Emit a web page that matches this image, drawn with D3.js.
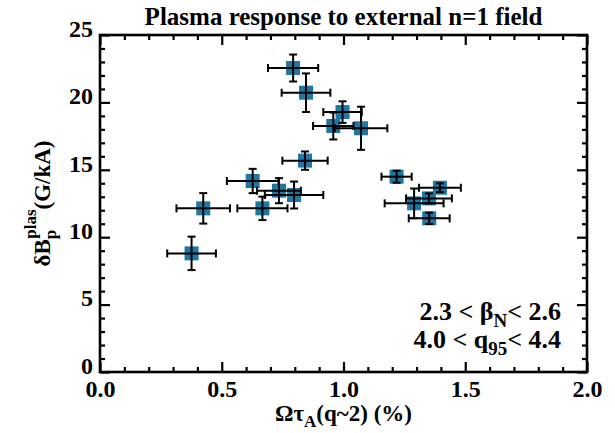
<!DOCTYPE html>
<html>
<head>
<meta charset="utf-8">
<script src="https://cdn.jsdelivr.net/npm/d3@7"></script>
<style>
body { margin: 0; background: #fff; }
text { font-family: "Liberation Serif", "Times New Roman", serif; font-weight: bold; fill: #000; }
</style>
</head>
<body>
<div id="vis"></div>
<script>
// values
const rotation    = [0.376, 0.424, 0.627, 0.667, 0.735, 0.797, 0.842, 0.793, 0.846, 0.958, 0.996, 1.072, 1.218, 1.290, 1.351, 1.396, 1.352]
const response    = [8.80, 12.14, 14.17, 12.14, 13.45, 13.13, 15.68, 22.55, 20.72, 18.25, 19.28, 18.08, 14.49, 12.51, 12.88, 13.67, 11.40]
const rotationErr = [0.100, 0.110, 0.106, 0.103, 0.090, 0.120, 0.093, 0.103, 0.100, 0.083, 0.079, 0.108, 0.062, 0.121, 0.094, 0.086, 0.084]
const responseErr = [1.24, 1.13, 0.90, 0.87, 0.93, 1.00, 0.68, 1.00, 1.43, 1.00, 0.80, 1.60, 0.45, 1.10, 0.37, 0.33, 0.42]
const xTicks = [0, 0.5, 1.0, 1.5, 2.0]
const yTicks = [0, 5, 10, 15, 20, 25]

const W = 615, H = 433
const margin = {left: 100, top: 35, right: 28, bottom: 61}
const width = W - margin.left - margin.right
const height = H - margin.top - margin.bottom

const dataset = rotation.map((r, i) => ({x: r, y: response[i], ex: rotationErr[i], ey: responseErr[i]}))

const svg = d3.select('#vis').append('svg')
    .attr('width', W)
    .attr('height', H)

const x = d3.scaleLinear().domain([0, 2]).range([margin.left, margin.left + width])
const y = d3.scaleLinear().domain([0, 25]).range([margin.top + height, margin.top])

const xMinor = d3.range(0, 2.0001, 0.1).filter(v => Math.abs(v * 2 - Math.round(v * 2)) > 1e-6)
const yMinor = d3.range(0, 25.001, 1).filter(v => v % 5 !== 0)

function styleAxis(g) {
    g.selectAll('.domain').remove()
    g.selectAll('line').attr('stroke', '#000').attr('stroke-width', 2.2)
    g.selectAll('text').style('font-size', '24px').attr('fill', '#000')
}

// bottom
svg.append('g').attr('transform', `translate(0,${y(0)})`)
    .call(d3.axisBottom(x).tickValues(xTicks).tickFormat(d3.format('.1f')).tickSize(-10).tickPadding(8))
    .call(styleAxis)
svg.append('g').attr('transform', `translate(0,${y(0)})`)
    .call(d3.axisBottom(x).tickValues(xMinor).tickFormat('').tickSize(-5))
    .call(styleAxis)
// top
svg.append('g').attr('transform', `translate(0,${y(25)})`)
    .call(d3.axisTop(x).tickValues(xTicks).tickFormat('').tickSize(-10))
    .call(styleAxis)
svg.append('g').attr('transform', `translate(0,${y(25)})`)
    .call(d3.axisTop(x).tickValues(xMinor).tickFormat('').tickSize(-5))
    .call(styleAxis)
// left
svg.append('g').attr('transform', `translate(${x(0)},0)`)
    .call(d3.axisLeft(y).tickValues(yTicks).tickFormat(d3.format('d')).tickSize(-10).tickPadding(7))
    .call(styleAxis)
    .call(g => g.selectAll('text').attr('dy', '0.05em'))
svg.append('g').attr('transform', `translate(${x(0)},0)`)
    .call(d3.axisLeft(y).tickValues(yMinor).tickFormat('').tickSize(-5))
    .call(styleAxis)
// right
svg.append('g').attr('transform', `translate(${x(2)},0)`)
    .call(d3.axisRight(y).tickValues(yTicks).tickFormat('').tickSize(-10))
    .call(styleAxis)
svg.append('g').attr('transform', `translate(${x(2)},0)`)
    .call(d3.axisRight(y).tickValues(yMinor).tickFormat('').tickSize(-5))
    .call(styleAxis)

// frame
svg.append('rect')
    .attr('x', x(0)).attr('y', y(25))
    .attr('width', x(2) - x(0)).attr('height', y(0) - y(25))
    .attr('fill', 'none').attr('stroke', '#000').attr('stroke-width', 2.6)

// markers
const sq = 14
svg.append('g').selectAll('rect')
    .data(dataset).join('rect')
    .attr('x', d => x(d.x) - sq / 2)
    .attr('y', d => y(d.y) - sq / 2)
    .attr('width', sq).attr('height', sq)
    .attr('fill', '#1f77a3')

// error bars
const cap = 4
const bars = svg.append('g').attr('stroke', '#000').attr('stroke-width', 2)
dataset.forEach(d => {
    const cx = x(d.x), cy = y(d.y)
    const x0 = x(d.x - d.ex), x1 = x(d.x + d.ex)
    const y0 = y(d.y - d.ey), y1 = y(d.y + d.ey)
    bars.append('line').attr('x1', x0).attr('x2', x1).attr('y1', cy).attr('y2', cy)
    bars.append('line').attr('x1', x0).attr('x2', x0).attr('y1', cy - cap).attr('y2', cy + cap)
    bars.append('line').attr('x1', x1).attr('x2', x1).attr('y1', cy - cap).attr('y2', cy + cap)
    bars.append('line').attr('x1', cx).attr('x2', cx).attr('y1', y0).attr('y2', y1)
    bars.append('line').attr('x1', cx - cap).attr('x2', cx + cap).attr('y1', y0).attr('y2', y0)
    bars.append('line').attr('x1', cx - cap).attr('x2', cx + cap).attr('y1', y1).attr('y2', y1)
})

// title
svg.append('text')
    .attr('x', (x(0) + x(2)) / 2).attr('y', 25)
    .attr('text-anchor', 'middle')
    .style('font-size', '25px')
    .text('Plasma response to external n=1 field')

// x label
const xl = svg.append('text')
    .attr('x', (x(0) + x(2)) / 2).attr('y', 421)
    .attr('text-anchor', 'middle')
    .style('font-size', '23px')
xl.append('tspan').text('Ωτ')
xl.append('tspan').attr('dy', 6).style('font-size', '17px').text('A')
xl.append('tspan').attr('dy', -6).text('(q~2) (%)')

// y label
const yl = svg.append('text')
    .attr('transform', `translate(50,${(y(0) + y(25)) / 2}) rotate(-90)`)
    .attr('text-anchor', 'middle')
    .style('font-size', '23px')
yl.append('tspan').text('δB')
yl.append('tspan').attr('dy', 6).style('font-size', '17px').text('p')
yl.append('tspan').attr('dx', -9).attr('dy', -20).style('font-size', '17px').text('plas')
yl.append('tspan').attr('dy', 14).text('(G/kA)')

// annotation
const ann = [
    ['2.3 < β', 'N', '< 2.6', 320],
    ['4.0 < q', '95', '< 4.4', 348]
]
ann.forEach(a => {
    const t = svg.append('text')
        .attr('x', 561).attr('y', a[3])
        .attr('text-anchor', 'end')
        .style('font-size', '26px')
    t.append('tspan').text(a[0])
    t.append('tspan').attr('dy', 7).style('font-size', '19px').text(a[1])
    t.append('tspan').attr('dy', -7).text(a[2])
})
</script>
</body>
</html>
